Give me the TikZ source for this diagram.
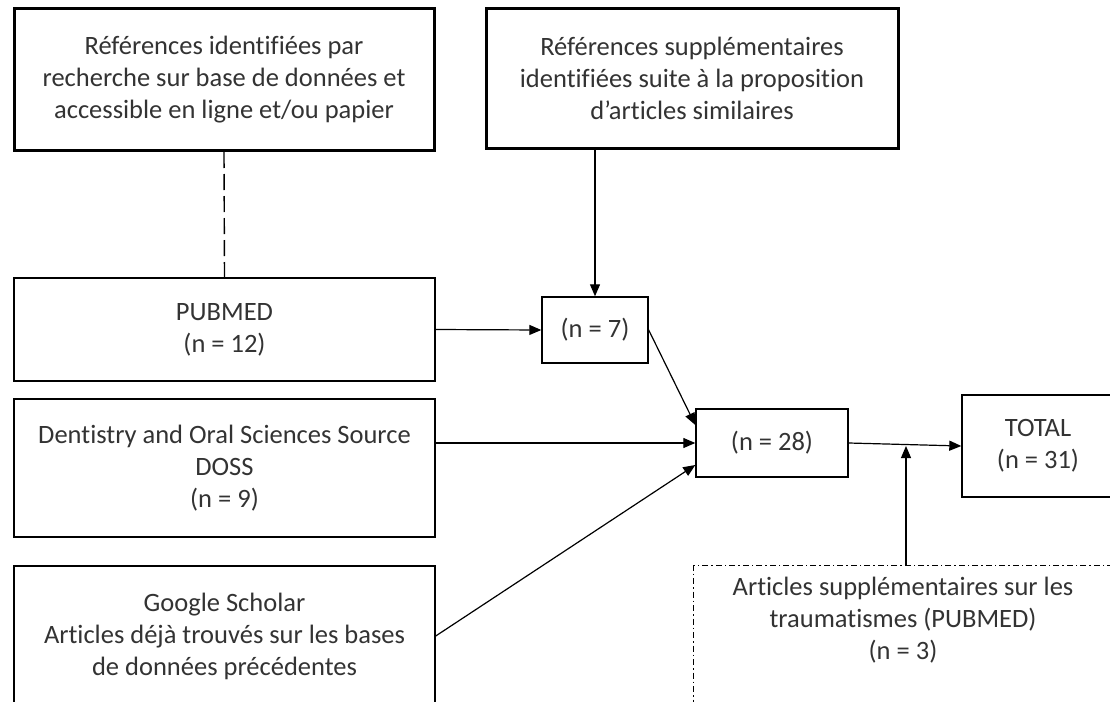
\documentclass[tikz,border=0pt]{standalone}
\usepackage{fontspec}
\setmainfont[Ligatures=NoCommon]{Carlito}
\usetikzlibrary{arrows.meta}
\begin{document}
\begin{tikzpicture}[x=1pt, y=-1pt,
		box/.style={draw, line width=1.4pt, align=center, inner sep=0pt},
		headbox/.style={box, line width=3pt},
		tip/.style={-{Triangle[length=12pt,width=10pt]}, line width=1.2pt},
		font=\fontsize{26.5}{32}\selectfont, text=black!80]
			\clip (0,0) rectangle (1110,701);
			\fill[white] (0,0) rectangle (1110,701);
			%sources
			\node[headbox, minimum width=420, minimum height=142] (refdb) at (224, 79.5)
				{Références identifiées par\\recherche sur base de données et\\accessible en ligne et/ou papier};
			\node[headbox, minimum width=412, minimum height=140] (refsup) at (692, 78.5)
				{Références supplémentaires\\identifiées suite à la proposition\\d’articles similaires};
			\node[box, minimum width=421, minimum height=103] (pubmed) at (224.5, 329.5) {PUBMED\\(n = 12)};
			\node[box, minimum width=421, minimum height=138] (doss) at (224.5, 468)
				{Dentistry and Oral Sciences Source\\DOSS\\(n = 9)};
			\node[box, minimum width=421, minimum height=140] (google) at (224.5, 636)
				{Google Scholar\\Articles déjà trouvés sur les bases\\de données précédentes};
			
			%counts
			\node[box, minimum width=106, minimum height=66] (n7) at (595, 330) {(n = 7)};
			\node[box, minimum width=152, minimum height=68] (n28) at (772, 443) {(n = 28)};
			\node[box, minimum width=152, minimum height=102] (total) at (1038, 446) {TOTAL\\(n = 31)};
			
			%extra articles
			\node[draw, line width=1pt, dash pattern=on 6pt off 3pt on 1.5pt off 3pt,
				minimum width=420, minimum height=160, anchor=north west] (extra) at (693, 565) {};
			\node[align=center] (extratext) at (903, 620)
				{Articles supplémentaires sur les\\traumatismes (PUBMED)\\(n = 3)};
			\coordinate (join) at (906, 446);
			
			\draw[line width=1.4pt, dash pattern=on 16pt off 6pt] (refdb.south) -- (pubmed.north);
			\draw[tip] (n7.north |- refsup.south) -- (n7.north);
			\draw[tip] (pubmed.east) -- (n7.west);
			\draw[tip] (n7.east) -- ([yshift=18pt]n28.west);
			\draw[tip] (doss.east |- n28.west) -- (n28.west);
			\draw[tip] (google.east) -- ([yshift=-22pt]n28.west);
			\draw[tip] (n28.east) -- (total.west);
			\draw[tip] (join |- extra.north) -- (join);
		\end{tikzpicture}
\end{document}
